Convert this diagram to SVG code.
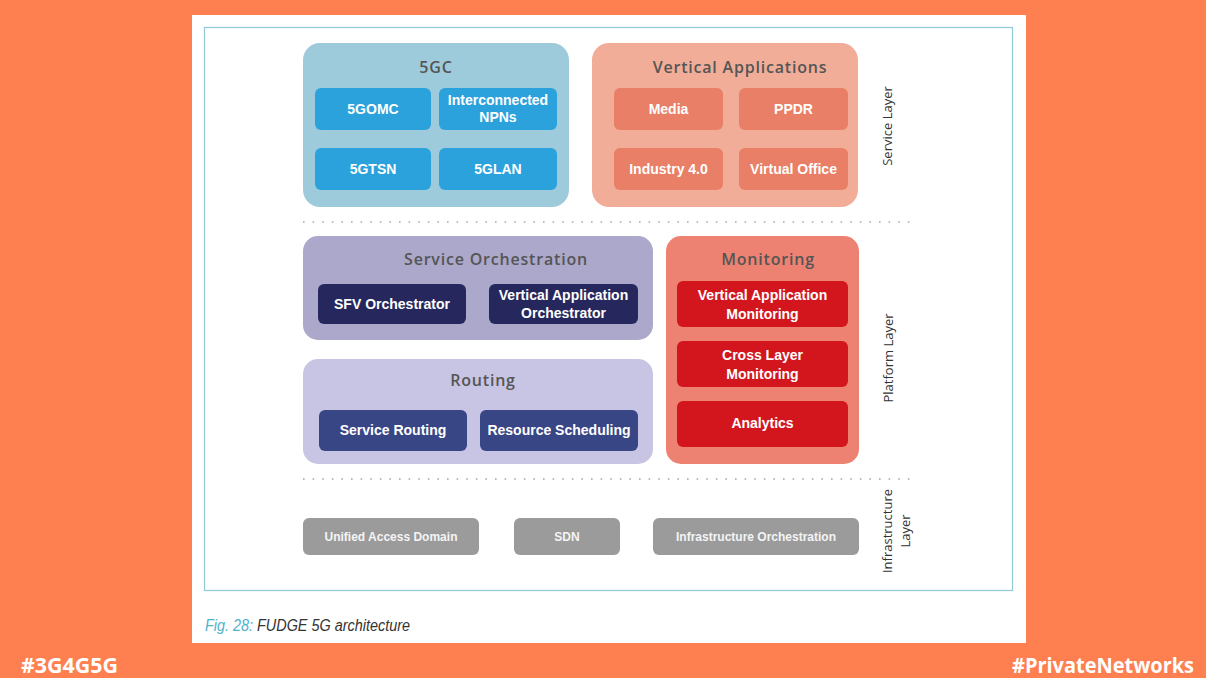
<svg xmlns="http://www.w3.org/2000/svg" width="1206" height="678" viewBox="0 0 1206 678">
<style>
.title{font-family:"Open Sans","DejaVu Sans",sans-serif;font-weight:600;font-size:16px;letter-spacing:0.8px;fill:#555;text-anchor:middle}
.lbl{font-family:"Liberation Sans",Arial,sans-serif;font-weight:bold;font-size:14px;fill:#fff;text-anchor:middle}
.inf{font-family:"Liberation Sans",Arial,sans-serif;font-weight:bold;font-size:12px;fill:#f4f4f4;text-anchor:middle}
.layer{font-family:"Open Sans","DejaVu Sans",sans-serif;font-size:13px;fill:#333;text-anchor:middle}
.dots{stroke:#a8a8a8;stroke-width:1.6;stroke-dasharray:1.6 8;fill:none}
.tag{font-family:"Open Sans","Liberation Sans",sans-serif;font-weight:bold;font-size:21px;fill:#fff}
</style>
<rect width="1206" height="678" fill="#fe7f4f"/>
<rect x="192" y="15" width="834" height="628" fill="#fff"/>
<rect x="204.5" y="27.5" width="808" height="563" fill="none" stroke="#8fcad6" stroke-width="1.2"/>

<g id="connectors">
<line class="dots" x1="303" y1="222" x2="912" y2="222"/>
<line class="dots" x1="303" y1="479" x2="912" y2="479"/>
</g>

<g id="g5gc">
<rect x="303" y="43" width="266" height="164" rx="17" fill="#9ecbdc"/>
<text class="title" x="436" y="73">5GC</text>
</g>
<g id="n5gomc"><rect x="315" y="88" width="116" height="42" rx="6" fill="#2ba2dc"/><text class="lbl" x="373" y="114">5GOMC</text></g>
<g id="nnpn"><rect x="439" y="88" width="118" height="42" rx="6" fill="#2ba2dc"/><text class="lbl" x="498" y="105">Interconnected</text><text class="lbl" x="498" y="122">NPNs</text></g>
<g id="n5gtsn"><rect x="315" y="148" width="116" height="42" rx="6" fill="#2ba2dc"/><text class="lbl" x="373" y="174">5GTSN</text></g>
<g id="n5glan"><rect x="439" y="148" width="118" height="42" rx="6" fill="#2ba2dc"/><text class="lbl" x="498" y="174">5GLAN</text></g>

<g id="gva">
<rect x="592" y="43" width="266" height="164" rx="17" fill="#f2ad98"/>
<text class="title" x="740" y="73">Vertical Applications</text>
</g>
<g id="nmedia"><rect x="614" y="88" width="109" height="42" rx="6" fill="#e87f66"/><text class="lbl" x="668.5" y="114">Media</text></g>
<g id="nppdr"><rect x="739" y="88" width="109" height="42" rx="6" fill="#e87f66"/><text class="lbl" x="793.5" y="114">PPDR</text></g>
<g id="nind"><rect x="614" y="148" width="109" height="42" rx="6" fill="#e87f66"/><text class="lbl" x="668.5" y="174">Industry 4.0</text></g>
<g id="nvo"><rect x="739" y="148" width="109" height="42" rx="6" fill="#e87f66"/><text class="lbl" x="793.5" y="174">Virtual Office</text></g>

<g id="gso">
<rect x="303" y="236" width="350" height="104" rx="15" fill="#aba8cb"/>
<text class="title" x="496" y="265">Service Orchestration</text>
</g>
<g id="nsfv"><rect x="318" y="284" width="148" height="40" rx="6" fill="#26285d"/><text class="lbl" x="392" y="309">SFV Orchestrator</text></g>
<g id="nvao"><rect x="489" y="284" width="149" height="40" rx="6" fill="#26285d"/><text class="lbl" x="563.5" y="300">Vertical Application</text><text class="lbl" x="563.5" y="318">Orchestrator</text></g>

<g id="grouting">
<rect x="303" y="359" width="350" height="105" rx="15" fill="#c8c4e3"/>
<text class="title" x="483" y="386">Routing</text>
</g>
<g id="nsr"><rect x="319" y="410" width="148" height="41" rx="6" fill="#394685"/><text class="lbl" x="393" y="435">Service Routing</text></g>
<g id="nrs"><rect x="480" y="410" width="158" height="41" rx="6" fill="#394685"/><text class="lbl" x="559" y="435">Resource Scheduling</text></g>

<g id="gmon">
<rect x="666" y="236" width="193" height="228" rx="15" fill="#ee8272"/>
<text class="title" x="768" y="265">Monitoring</text>
</g>
<g id="nvam"><rect x="677" y="281" width="171" height="46" rx="6" fill="#d3161e"/><text class="lbl" x="762.5" y="300">Vertical Application</text><text class="lbl" x="762.5" y="319">Monitoring</text></g>
<g id="nclm"><rect x="677" y="341" width="171" height="46" rx="6" fill="#d3161e"/><text class="lbl" x="762.5" y="360">Cross Layer</text><text class="lbl" x="762.5" y="379">Monitoring</text></g>
<g id="nana"><rect x="677" y="401" width="171" height="46" rx="6" fill="#d3161e"/><text class="lbl" x="762.5" y="428">Analytics</text></g>

<g id="nuad"><rect x="303" y="518" width="176" height="37" rx="6" fill="#9b9b9b"/><text class="inf" x="391" y="541">Unified Access Domain</text></g>
<g id="nsdn"><rect x="514" y="518" width="106" height="37" rx="6" fill="#9b9b9b"/><text class="inf" x="567" y="541">SDN</text></g>
<g id="nio"><rect x="653" y="518" width="206" height="37" rx="6" fill="#9b9b9b"/><text class="inf" x="756" y="541">Infrastructure Orchestration</text></g>

<g id="layers">
<text class="layer" transform="translate(892,126) rotate(-90)">Service Layer</text>
<text class="layer" transform="translate(893,358) rotate(-90)">Platform Layer</text>
<text class="layer" transform="translate(892,531) rotate(-90)">Infrastructure</text>
<text class="layer" transform="translate(910,531) rotate(-90)">Layer</text>
</g>

<text x="205" y="631" font-family="Liberation Sans, Arial, sans-serif" font-style="italic" font-size="16" textLength="205" lengthAdjust="spacingAndGlyphs"><tspan fill="#4fb3cc">Fig. 28:</tspan><tspan fill="#333"> FUDGE 5G architecture</tspan></text>

<text class="tag" x="21" y="673" textLength="97" lengthAdjust="spacingAndGlyphs">#3G4G5G</text>
<text class="tag" x="1012" y="673" textLength="182" lengthAdjust="spacingAndGlyphs">#PrivateNetworks</text>
</svg>
